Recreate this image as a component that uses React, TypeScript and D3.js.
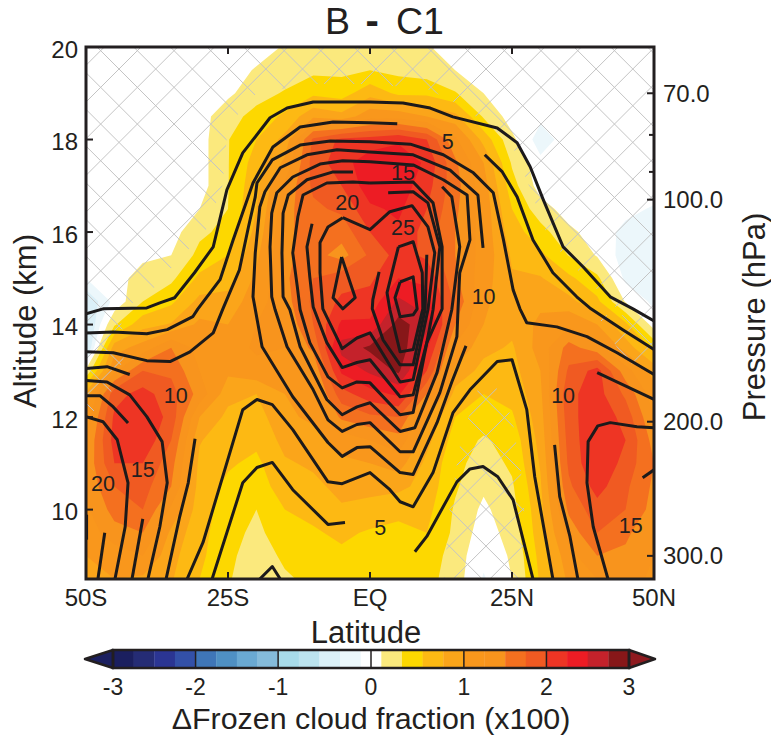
import React from "react";
import * as d3 from "d3";

const W = 771, H = 738;
const plot = { l: 86, r: 654, t: 47, b: 579 };
const INK = "#231f20";
const FONT = "'Liberation Sans', Arial, sans-serif";

const latitudes = d3.range(-50, 51, 5);
const altitudes = d3.range(20, 8.4, -0.5);

// Frozen cloud fraction change, one array per latitude, altitude 20 km -> 8.5 km
const fS50 = [0,0,0,0,0,0,0,0,0,0,-.1,-.4,-.5,-.5,.15,.85,1.1,1.25,1.3,1.3,1.2,1.1,1,.95];
const fS45 = [0,0,0,0,0,0,0,0,0,0,0,-.05,.3,.9,1.2,1.9,2.05,2.1,2,1.75,1.6,1.4,1.1,1];
const fS40 = [0,0,0,0,0,0,0,0,0,.05,.2,.33,.7,1.1,1.75,2.1,2.25,2.2,2,1.85,1.75,1.5,1.25,.95];
const fS35 = [0,0,0,0,0,0,0,0,0,.1,.28,.5,.8,1.5,1.7,1.85,1.9,1.75,1.6,1.5,1.2,.95,.85,.8];
const fS30 = [0,0,0,0,0,0,0,.1,.28,.4,.6,.85,1.05,1.15,1.25,1.4,1,.8,.72,.68,.65,.62,.6,.55];
const fS25 = [0,0,.05,.25,.32,.32,.32,.33,.4,.55,.7,.85,1,1.1,1.05,.85,.72,.62,.58,.5,.45,.42,.38,.35];
const fS20 = [0,.12,.25,.4,.55,.65,.72,.78,.85,.95,1.05,1.15,1.25,1.3,1.15,.78,.68,.6,.5,.45,.33,.27,.22,.2];
const fS15 = [.12,.22,.35,.6,.85,1.05,1.3,1.4,1.45,1.45,1.45,1.4,1.3,1.25,1.2,1,.95,.85,.75,.65,.55,.47,.37,.3];
const fS10 = [.18,.28,.5,.95,1.8,1.85,1.8,1.7,1.6,1.6,1.75,1.8,1.75,1.55,1.3,1.15,1.05,.9,.82,.72,.62,.52,.4,.38];
const fS05 = [.2,.28,.45,.85,2.05,2.15,2,1.8,1.6,1.4,1.9,2.05,2.3,2.6,2.3,1.9,1.55,1.1,.95,.85,.75,.6,.5,.42];
const fEQ = [.22,.33,.7,1.15,2.1,2.4,2.4,2.2,2,1.8,1.95,2.1,2.3,2.8,2.55,2.15,1.7,1.25,1,.85,.7,.52,.42,.38];
const fN05 = [.22,.27,.5,1.15,2.2,2.45,2.4,2.3,2.2,2.1,2.25,2.55,2.85,2.95,2.8,2.3,1.75,1.4,1.1,.85,.58,.52,.48,.42];
const fN10 = [.12,.22,.5,1,2,2.2,2.1,2,1.9,1.95,2.2,2.35,2.6,2.3,2,1.5,1,.85,.72,.68,.62,.55,.5,.42];
const fN15 = [0,.1,.35,.85,1.3,1.55,1.6,1.55,1.5,1.5,1.55,1.7,1.5,1.2,.95,.7,.55,.45,.4,.36,.3,.28,.2,.2];
const fN20 = [0,0,.1,.3,.7,1,1.1,1.15,1.15,1.15,1.1,1.05,1,.85,.7,.55,.45,.3,.22,.14,.05,-.02,-.05,-.12];
const fN25 = [0,0,0,0,.15,.3,.42,.55,.65,.75,.8,.85,.85,.75,.7,.62,.52,.42,.37,.3,.25,.2,.13,.1];
const fN30 = [0,0,0,-.05,-.2,-.05,0,.2,.42,.6,.8,.95,1.05,1.1,1,.95,.9,.85,.8,.75,.7,.67,.62,.58];
const fN35 = [0,0,0,0,0,0,0,0,.15,.32,.6,.85,1.2,1.6,1.8,1.95,1.9,1.85,1.8,1.7,1.55,1.35,1.15,1.05];
const fN40 = [0,0,0,0,0,0,0,0,0,.08,.38,.6,1,1.35,2.1,2.1,2.2,2.25,2.25,2.1,1.9,1.75,1.5,1.25];
const fN45 = [0,0,0,0,0,0,0,-.05,-.15,-.2,-.15,.08,.6,.9,1.35,1.7,1.9,2,1.9,1.8,1.75,1.55,1.45,1.35];
const fN50 = [0,0,0,0,0,0,0,-.12,-.25,-.2,-.2,-.15,0,.5,.9,1.1,1.25,1.4,1.5,1.45,1.4,1.3,1.25,1.2];
const fillColumns = [fS50,fS45,fS40,fS35,fS30,fS25,fS20,fS15,fS10,fS05,fEQ,fN05,fN10,fN15,fN20,fN25,fN30,fN35,fN40,fN45,fN50];

const posLevels = [.1,.33,.55,.78,1,1.25,1.5,1.75,2,2.25,2.5,2.75];
const posColors = ["#fbe97d","#fdd800","#fdb913","#fba51a","#f9971c","#f8941d","#f4701f","#f05a22","#ee3524","#ed1c24","#c4222b","#871719"];
const negLevels = [.1,.25,.5,.75];
const negColors = ["#ecf7fb","#dbf0f8","#bce3ef","#a8dbea"];

const barColors = ["#1b1f5f","#252c75","#2b3593","#3350a8","#3f76b8","#4f90c4","#6aa9d3","#85bbdb","#a8dbea","#bce3ef","#dbf0f8","#ecf7fb","#ffffff",
  "#fbe97d","#fdd800","#fdb913","#fba51a","#f9971c","#f8941d","#f4701f","#f05a22","#ee3524","#ed1c24","#c4222b","#871719"];
const barTickValues = [-3,-2,-1,0,1,2,3];
const barTickSlots = [0,4,8,12.5,17,21,25];

// Black contours, read as [latitudes, altitudes]
const line01 = [[-50,-47,-39.3,-37,-34.4,-30.9,-27.6,-25.2,-22.4,-17.6,-14.6,-10,-4,0,5.8,10.6,14.6,22.4,25.9,28.2,30.5,34,37.5,42.3,46.3,50],
  [14.23,14.34,14.36,14.47,14.58,15.12,15.68,16.91,17.71,18.47,18.68,18.81,18.81,18.81,18.79,18.68,18.49,18.25,17.93,17.41,16.7,15.68,15.25,14.6,14.34,14.08]];
const line02a = [[-50,-45.2,-39.3,-35.7,-31.2,-30.3,-26.4,-24.1,-20.6,-17.1,-12.3,-6.5,0,4.8],
  [13.82,13.84,13.8,13.89,14.17,14.34,14.97,15.83,17.06,17.84,18.27,18.38,18.36,18.34]];
const line02b = [[20.2,23.3,25.9,28.7,32.2,36.4,38.7,44.5,50],[17.67,17.3,16.76,15.83,15.12,14.6,14.36,13.89,13.46]];
const line03 = [[-50,-45.2,-39.3,-35.2,-31.7,-27.6,-25.9,-23,-21.4,-20.2,-19.9,-17.2,-12.3,-7,0,7.1,12.9,18.2,21.7,23.5,25.2,26.4,27.6,32.9,38.2,43.5,50],
  [13.41,13.39,13.22,13.2,13.41,13.82,14.34,15.18,16.11,16.76,17.06,17.56,17.88,17.97,17.95,17.9,17.67,17.28,16.85,15.83,14.75,14.34,14.04,13.95,13.74,13.39,12.92]];
const line04 = [[19.9,19,14.1,7.6,0,-5.8,-11.1,-15.8,-18.5,-19.4,-20.2,-20.6,-19,-13.6,-7.4,-4.9,-2.3,0,5.3,7.6,11.8,14.4,16.9],
  [15.66,16.8,17.34,17.67,17.73,17.78,17.67,17.39,16.87,16.54,15.55,14.6,13.52,12.44,11.45,11.15,11.34,11.36,10.8,10.76,11.88,12.76,13.54]];
const line05 = [[0,7.6,12.9,17.1,17.6,15.8,15.5,15.3,12.3,7.6,5.3,0,-2.3,-4.9,-7.4,-10,-14.6,-16.7,-17.3,-17.6,-17.3,-16.4,-13.6,-8.8,-4.8,0],
  [17.52,17.45,17.13,16.8,15.83,15.12,14.34,13.74,12.53,11.25,11.25,11.88,11.84,11.69,11.94,12.59,13.52,14.32,14.6,15.68,16.41,16.85,17.19,17.47,17.54,17.52]];
const line06 = [[-3,-6.5,-11.1,-14.4,-15.3,-15.5,-15.3,-14.1,-12.3,-7.6,-4.9,-2.3,0,5.3,7.9,11.8,14.4,15.8,14.4,12.7],
  [17.3,17.3,17.13,16.8,16.41,15.55,14.6,14.32,13.52,12.38,12.05,12.22,12.31,11.69,11.77,12.96,14.32,15.68,16.76,16.98]];
const line07 = [[0,7.6,11.1,12.7,12.7,10,7.6,5.3,0,-2.3,-4.9,-7.4,-10.6,-12.3,-12.8,-13.6,-12.7,-11.8,-7.6,-3,0],
  [17.06,17.08,16.63,15.68,14.34,13.61,12.1,12.05,12.74,12.76,12.63,12.87,13.61,14.32,14.82,15.55,16.33,16.8,17.06,17.08,17.06]];
const line08 = [[-10.2,-11.1,-10.6,-10,-7.6,-4.9,-2.3,0,5.3,7.6,10,11.1,12.3,10.2,7.6,3.2],
  [16.18,15.68,15.03,14.38,13.61,13.07,13.18,13.24,12.44,12.48,13.61,14.32,15.68,16.63,16.87,16.85]];
const line09 = [[-4.8,-7.4,-8.8,-8.8,-8.3,-4.9,-2.3,0,5.3,7.6,10.2,11.4,10.2,7.4,3.5,0,-4.8],
  [16.31,16.11,15.77,15.12,14.34,13.48,13.71,13.82,12.76,12.81,14.32,15.55,16.11,16.57,16.44,16.05,16.31]];
const line10 = [[1.6,.5,.4,2.3,5.3,7.6,9.7,10],[15.14,14.54,14.34,13.67,13.13,13.13,14.32,15.51]];
const line11 = [[5,7.6,9.2,9.3,7.6,5.3,3.5,3,5],[15.68,15.79,15.12,14.34,13.46,13.41,14.32,14.69,15.68]];
const line12 = [[5.3,7.6,8.3,7.6,5.3,4.4,5.3],[14.92,15.03,14.34,14.21,14.17,14.58,14.92]];
const line13 = [[-5,-6.5,-4.8,-2.6,-5],[15.46,14.58,14.34,14.58,15.46]];
const line14 = [[-32.2,-29.4,-22.4,-19.9,-17.2,-13.6,-7.4,-4.9,0,3.5,5.3,7.6,11.1,14.6,17.6,22.4,25,27.6,29,32.2],
  [8.5,9.29,12.16,12.38,12.27,11.73,10.6,10.56,10.8,10.43,10.17,10.06,10.8,12.09,12.59,13.2,13.24,12.16,10.71,8.5]];
const line15a = [[-27.8,-22.4,-19.9,-17.2,-13.6,-7.4,-4.4],[8.5,10.58,10.91,11.02,10.43,9.68,9.72]];
const line15b = [[7.9,10,15.3,17.6,19.9,22.5,25.2,28.7],[9.09,9.42,10.6,10.88,10.93,10.71,10.21,8.5]];
const line16 = [[-19.4,-17.2,-15.8],[8.5,8.77,8.5]];
const line17 = [[-50,-46.3,-42.3],[13.05,13.09,12.92]];
const line18 = [[-50,-46.3,-42.3,-39.3,-36.6,-35.7,-37,-39.1],[12.79,12.76,12.48,12.01,11.47,10.58,9.63,8.5]];
const line19 = [[-50,-47.5,-45.2,-42.6],[12.46,12.46,12.22,11.87]];
const line20 = [[-50,-47,-44.5,-43.5,-42.6,-43.1,-44.9],[12.01,11.9,11.51,11.02,10.58,9.63,8.5]];
const line21 = [[-46.7,-47.9],[9.5,8.5]];
const line22 = [[-40,-41.9],[9.8,8.5]];
const line23 = [[-30.8,-32,-33.5,-35.9],[11.53,10.58,9.85,8.5]];
const line24 = [[-49.9,-49.9],[9.89,9.35]];
const line25 = [[40,50],[12.96,12.38]];
const line26 = [[32.5,33.4,35.2,36.6],[11.4,10.28,9.42,8.5]];
const line27 = [[50,47,42.3,40.1,38.4,38.2,39.3,41.9],[11.77,11.79,11.88,11.81,11.47,10.58,9.63,8.5]];
const line28 = [[48,50],[10.69,10.86]];
const contourLines = [line01,line02a,line02b,line03,line04,line05,line06,line07,line08,line09,line10,line11,line12,line13,line14,line15a,line15b,line16,line17,line18,line19,line20,line21,line22,line23,line24,line25,line26,line27,line28];

const labelText = ["5","15","20","25","10","10","15","20","5","10","15"];
const labelLat = [13.7,5.8,-4,5.8,20,-34.2,-40,-47,1.8,34,45.9];
const labelAlt = [17.95,17.28,16.63,16.09,14.6,12.45,10.85,10.55,9.6,12.45,9.65];

// Regions where the change is not significant (cross-hatched)
const hatchTop = [[-50,-46,-38,-33,-29,-26,-25,-20,-10,0,10,15,21,25,28,31,34,38,43,47,50,50,-50],
  [14,14.1,14.8,15.5,16,17,18.3,19,19.2,19.2,19.1,18.8,18.3,17.9,17,16,15.5,15,14.4,14.1,14,20,20]];
const hatchLeft = [[-50,-44,-43,-46,-50],[14.2,14.2,13.4,12.4,12]];
const hatchRight = [[40,50,50,45],[14.2,14.2,13,13.2]];
const hatchHole = [[13,14,16,19,21.5,25,27,27.5],[8.5,10,11.5,12.6,12.8,12,10.5,8.5]];
const hatchRegions = [hatchTop,hatchLeft,hatchRight,hatchHole];

const latTicks = [-50,-25,0,25,50];
const latTickLabels = ["50S","25S","EQ","25N","50N"];
const altTicks = [20,18,16,14,12,10];
const pressureLabels = ["70.0","100.0","200.0","300.0"];
const pressureAlts = [19,16.7,11.9,9];
const pressureMinorAlts = [18.1,17.3];

export default function App() {
  const x = d3.scaleLinear().domain([-50, 50]).range([plot.l, plot.r]);
  const y = d3.scaleLinear().domain([8.5, 20]).range([plot.b, plot.t]);
  const nx = latitudes.length, ny = altitudes.length;
  const latOfIdx = d3.scaleLinear().domain([0, nx - 1]).range([-50, 50]).clamp(true);
  const altOfIdx = d3.scaleLinear().domain([0, ny - 1]).range([20, 8.5]).clamp(true);
  const flat: number[] = [];
  for (let j = 0; j < ny; j++) for (let i = 0; i < nx; i++) flat.push(fillColumns[i][j]);

  const path = d3.geoPath(d3.geoTransform({
    point(this: any, cx: number, cy: number) {
      this.stream.point(x(latOfIdx(cx - 0.5)), y(altOfIdx(cy - 0.5)));
    },
  }));
  const gen = d3.contours().size([nx, ny]);
  const posBands = gen.thresholds(posLevels)(flat);
  const negBands = gen.thresholds(negLevels)(flat.map((v) => -v));

  const line = d3.line<number[]>().x((p) => x(p[0])).y((p) => y(p[1]));
  const toPts = (s: number[][]) => s[0].map((la, i) => [la, s[1][i]]);

  // hatch lines
  const hatchStep = 36.7;
  const hatchD: string[] = [];
  d3.range(-30, 30).forEach((k) => {
    const a = 188 + hatchStep * k; // x + y = a
    hatchD.push(`M${a - plot.t},${plot.t}L${a - plot.b},${plot.b}`);
    const b = 50 + hatchStep * k; // x - y = b
    hatchD.push(`M${b + plot.t},${plot.t}L${b + plot.b},${plot.b}`);
  });

  const slot = d3.scaleLinear().domain([0, 25]).range([113, 629]);
  const barT = 650, barB = 668, barM = 659;
  const txt = { fontFamily: FONT, fill: INK };

  return (
    <svg width={W} height={H} style={{ position: "absolute", left: 0, top: 0, background: "#fff" }}>
      <defs>
        <clipPath id="plotClip"><rect x={plot.l} y={plot.t} width={plot.r - plot.l} height={plot.b - plot.t} /></clipPath>
        <clipPath id="hatchClip">
          {hatchRegions.map((r, i) => <path key={i} d={(line(toPts(r)) || "") + "Z"} />)}
        </clipPath>
      </defs>
      <g clipPath="url(#plotClip)">
        {negBands.map((c, i) => <path key={"n" + i} d={path(c as any) || ""} fill={negColors[i]} />)}
        {posBands.map((c, i) => <path key={"p" + i} d={path(c as any) || ""} fill={posColors[i]} />)}
        <g clipPath="url(#hatchClip)">
          <path d={hatchD.join("")} stroke="#c4c4c4" strokeWidth={1} fill="none" />
        </g>
        {contourLines.map((s, i) => (
          <path key={i} d={line(toPts(s)) || ""} fill="none" stroke="#1c1a1b" strokeWidth={3} strokeLinejoin="round" strokeLinecap="butt" />
        ))}
      </g>
      {labelText.map((t, i) => (
        <text key={i} x={x(labelLat[i])} y={y(labelAlt[i])} fontSize={21.5} textAnchor="middle" dominantBaseline="central" {...txt}>{t}</text>
      ))}
      <rect x={plot.l} y={plot.t} width={plot.r - plot.l} height={plot.b - plot.t} fill="none" stroke={INK} strokeWidth={3} />
      {latTicks.map((t, i) => (
        <g key={t}>
          {i > 0 && i < 4 && <line x1={x(t)} x2={x(t)} y1={plot.b} y2={plot.b - 7} stroke={INK} strokeWidth={2} />}
          {i > 0 && i < 4 && <line x1={x(t)} x2={x(t)} y1={plot.t} y2={plot.t + 7} stroke={INK} strokeWidth={2} />}
          <text x={x(t)} y={597.5} fontSize={24} textAnchor="middle" dominantBaseline="central" {...txt}>{latTickLabels[i]}</text>
        </g>
      ))}
      {altTicks.map((t) => (
        <g key={t}>
          {t < 20 && <line x1={plot.l} x2={plot.l + 7} y1={y(t)} y2={y(t)} stroke={INK} strokeWidth={2} />}
          <text x={78} y={y(t) + 2} fontSize={24} textAnchor="end" dominantBaseline="central" {...txt}>{t}</text>
        </g>
      ))}
      {pressureAlts.map((a, i) => (
        <g key={a}>
          <line x1={plot.r} x2={plot.r - 7} y1={y(a)} y2={y(a)} stroke={INK} strokeWidth={2} />
          <text x={663} y={y(a)} fontSize={24} dominantBaseline="central" {...txt}>{pressureLabels[i]}</text>
        </g>
      ))}
      {pressureMinorAlts.map((a) => <line key={a} x1={plot.r} x2={plot.r - 5} y1={y(a)} y2={y(a)} stroke={INK} strokeWidth={2} />)}
      <text y={34} fontSize={37.5} {...txt}>
        <tspan x={325}>B </tspan>
        <tspan x={365.5} fontSize={40} fontWeight="bold">- </tspan>
        <tspan x={396}>C1</tspan>
      </text>
      <text x={366} y={632} fontSize={31} textAnchor="middle" dominantBaseline="central" {...txt}>Latitude</text>
      <text transform="translate(25,321) rotate(-90)" fontSize={31} textAnchor="middle" dominantBaseline="central" {...txt}>Altitude (km)</text>
      <text transform="translate(754,317) rotate(-90)" fontSize={31} textAnchor="middle" dominantBaseline="central" {...txt}>Pressure (hPa)</text>

      {barColors.map((c, i) => <rect key={i} x={slot(i)} y={barT} width={slot(1) - slot(0) + 0.3} height={barB - barT} fill={c} />)}
      <path d={`M${slot(0)},${barT}L85,${barM}L${slot(0)},${barB}Z`} fill={barColors[0]} stroke={INK} strokeWidth={2.5} strokeLinejoin="round" />
      <path d={`M${slot(25)},${barT}L655,${barM}L${slot(25)},${barB}Z`} fill="#8e1a1f" stroke={INK} strokeWidth={2.5} strokeLinejoin="round" />
      <rect x={slot(0)} y={barT} width={slot(25) - slot(0)} height={barB - barT} fill="none" stroke={INK} strokeWidth={2.5} />
      {barTickValues.map((v, i) => (
        <g key={v}>
          <line x1={slot(barTickSlots[i])} x2={slot(barTickSlots[i])} y1={barT} y2={barB} stroke={INK} strokeWidth={1.5} />
          <text x={slot(barTickSlots[i])} y={687} fontSize={23} textAnchor="middle" dominantBaseline="central" {...txt}>{v}</text>
        </g>
      ))}
      <text x={371} y={718} fontSize={30.4} textAnchor="middle" dominantBaseline="central" {...txt}>ΔFrozen cloud fraction (x100)</text>
    </svg>
  );
}
